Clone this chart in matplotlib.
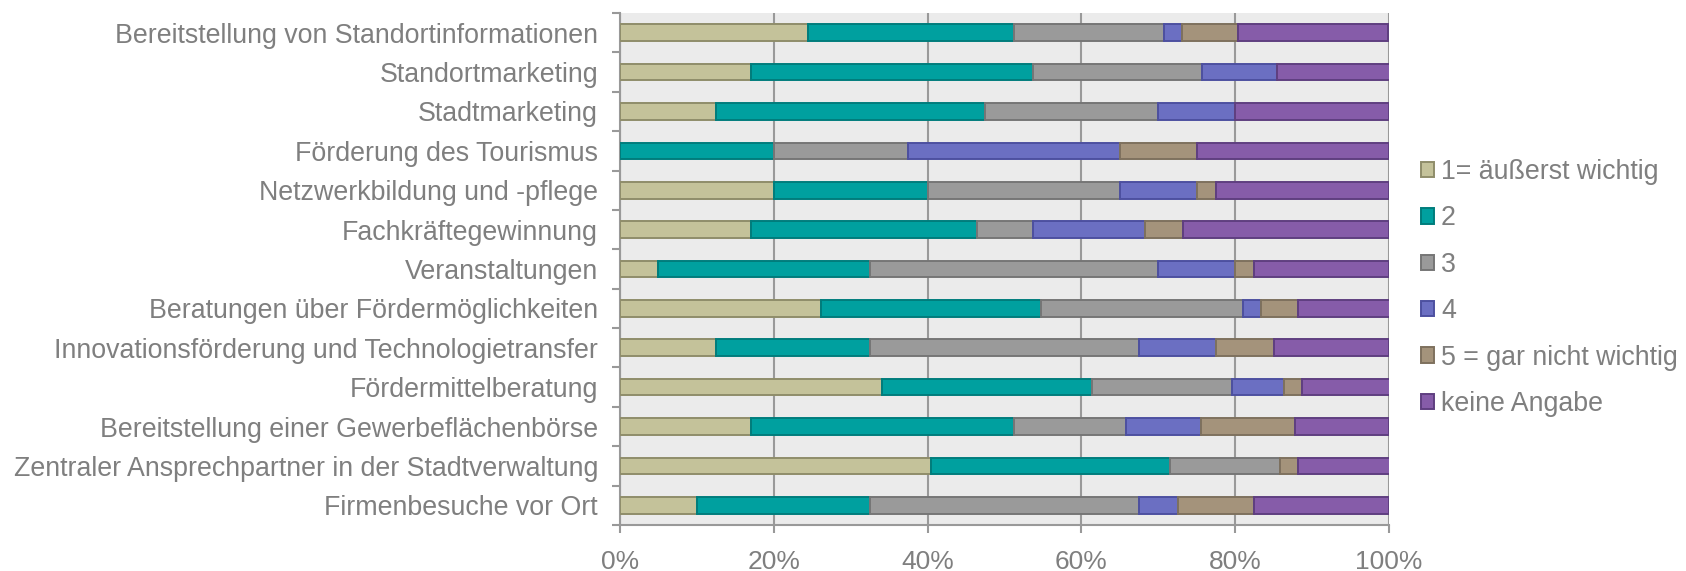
import matplotlib
matplotlib.use("Agg")
import matplotlib.pyplot as plt
import numpy as np

plt.rcParams['font.family'] = ['Liberation Sans', 'DejaVu Sans']

categories = [
    "Bereitstellung von Standortinformationen",
    "Standortmarketing",
    "Stadtmarketing",
    "Förderung des Tourismus",
    "Netzwerkbildung und -pflege",
    "Fachkräftegewinnung",
    "Veranstaltungen",
    "Beratungen über Fördermöglichkeiten",
    "Innovationsförderung und Technologietransfer",
    "Fördermittelberatung",
    "Bereitstellung einer Gewerbeflächenbörse",
    "Zentraler Ansprechpartner in der Stadtverwaltung",
    "Firmenbesuche vor Ort",
]

series_names = ["1= äußerst wichtig", "2", "3", "4", "5 = gar nicht wichtig", "keine Angabe"]

s1 = [24.4, 17.1, 12.5, 0.0, 20.0, 17.1, 5.0, 26.2, 12.5, 34.1, 17.1, 40.5, 10.0]
s2 = [26.8, 36.6, 35.0, 20.0, 20.0, 29.3, 27.5, 28.6, 20.0, 27.3, 34.1, 31.0, 22.5]
s3 = [19.5, 22.0, 22.5, 17.5, 25.0, 7.3, 37.5, 26.2, 35.0, 18.2, 14.6, 14.3, 35.0]
s4 = [2.4, 9.8, 10.0, 27.5, 10.0, 14.6, 10.0, 2.4, 10.0, 6.8, 9.8, 0.0, 5.0]
s5 = [7.3, 0.0, 0.0, 10.0, 2.5, 4.9, 2.5, 4.8, 7.5, 2.3, 12.2, 2.4, 10.0]
s6 = [19.5, 14.6, 20.0, 25.0, 22.5, 26.8, 17.5, 11.9, 15.0, 11.4, 12.2, 11.9, 17.5]

x_ticks = [0, 20, 40, 60, 80, 100]
x_tick_labels = ["0%", "20%", "40%", "60%", "80%", "100%"]

face_colors = ["#C4C29A", "#00A09F", "#9A9A9A", "#6B6FC2", "#A4937B", "#865CA9"]
edge_colors = ["#8F8D6A", "#007D7C", "#767676", "#4D50A0", "#7E715E", "#5F3F80"]

text_color = "#7F7F7F"
axis_color = "#999999"

fig = plt.figure(figsize=(16.86, 5.71), dpi=100)
ax = fig.add_axes([620 / 1686, 1 - 525 / 571, (1389 - 620) / 1686, (525 - 13) / 571])
ax.set_facecolor("#EBEBEB")

y = np.arange(len(categories))
left = np.zeros(len(categories))
handles = []
for vals, name, fc, ec in zip([s1, s2, s3, s4, s5, s6], series_names, face_colors, edge_colors):
    vals = np.array(vals, dtype=float)
    bars = ax.barh(y, vals, left=left, height=0.42, color=fc, edgecolor=ec,
                   linewidth=1.4, label=name, zorder=3)
    handles.append(bars)
    left = left + vals

ax.set_xlim(0, 100)
ax.set_ylim(len(categories) - 0.5, -0.5)

ax.set_xticks(x_ticks)
ax.set_xticklabels(x_tick_labels)
ax.xaxis.grid(True, color=axis_color, linewidth=1.5, zorder=1)
ax.set_axisbelow(True)

ax.set_yticks(y)
ax.set_yticklabels(categories)
ax.set_yticks(np.arange(-0.5, len(categories), 1.0), minor=True)
ax.tick_params(axis='y', which='major', length=0, pad=22 * 72 / 100, labelsize=19.3, labelcolor=text_color)
ax.tick_params(axis='y', which='minor', length=6, width=1.5, color=axis_color)
ax.tick_params(axis='x', which='major', length=6, width=1.5, color=axis_color,
               labelsize=19, labelcolor=text_color, pad=12)

for side in ["top", "right"]:
    ax.spines[side].set_visible(False)
for side in ["left", "bottom"]:
    ax.spines[side].set_color(axis_color)
    ax.spines[side].set_linewidth(1.5)

leg = fig.legend(handles=handles, labels=series_names, loc="center left",
                 bbox_to_anchor=(1421 / 1686, 1 - 288 / 571), frameon=False,
                 fontsize=19.3, handlelength=0.5, handleheight=0.5, handletextpad=0.25,
                 labelspacing=0.76, borderaxespad=0, borderpad=0)
for t in leg.get_texts():
    t.set_color(text_color)

fig.savefig("out.png", dpi=100)
